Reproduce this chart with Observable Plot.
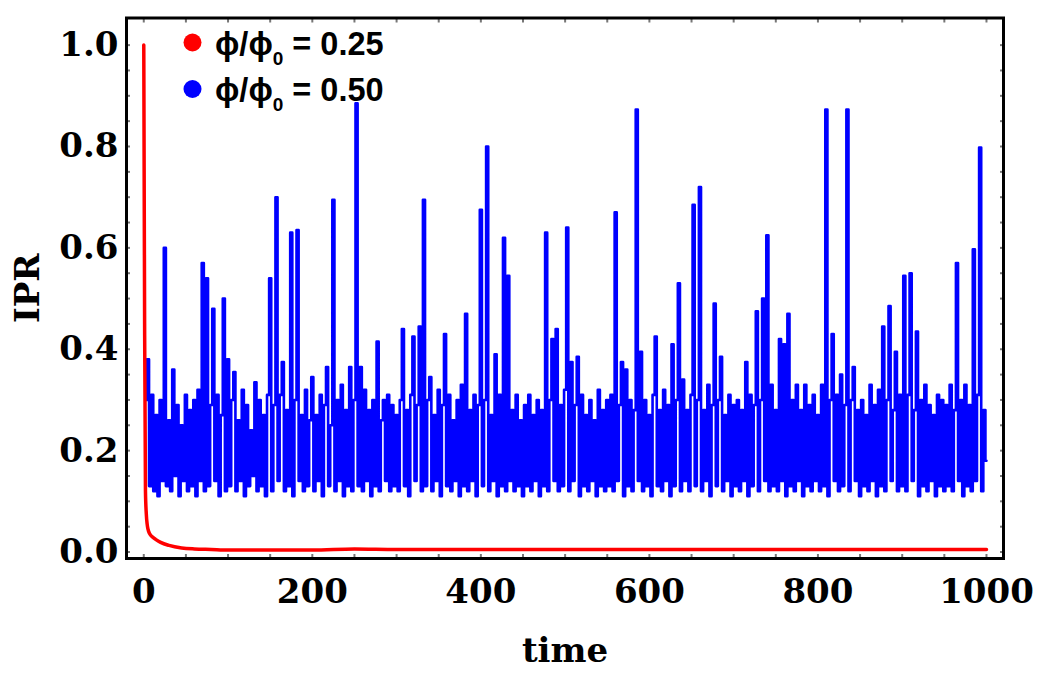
<!DOCTYPE html>
<html>
<head>
<meta charset="utf-8">
<script src="https://cdn.jsdelivr.net/npm/d3@7"></script>
<script src="https://cdn.jsdelivr.net/npm/@observablehq/plot@0.6"></script>
<style>
  html, body { margin: 0; padding: 0; background: #fff; }
  #chart { width: 1047px; height: 699px; }
</style>
</head>
<body>
<div id="chart"></div>
<script>
// ---- Data ----
// phi/phi0 = 0.25 (red)
const redTime = [0, 1, 2, 3, 4, 5, 7, 10, 14, 20, 30, 45, 60, 80, 100, 150, 200, 250, 300, 400, 500, 600, 700, 800, 900, 1000];
const redIPR  = [1.0, 0.45, 0.12, 0.075, 0.055, 0.045, 0.036, 0.03, 0.025, 0.019, 0.013, 0.008, 0.006, 0.005, 0.004, 0.004, 0.004, 0.006, 0.005, 0.005, 0.005, 0.005, 0.005, 0.005, 0.005, 0.005];

// phi/phi0 = 0.50 (blue), sampled every 2.5 time units starting at t = 2.5
const blueStart = 2.5;
const blueStep = 2.5;
const blueIPR = [
  0.30, 0.38, 0.13, 0.31, 0.12, 0.27, 0.11, 0.30, 0.14, 0.60, 0.13, 0.26, 0.12, 0.36, 0.15, 0.29, 0.11, 0.25, 0.14, 0.31,
  0.12, 0.28, 0.13, 0.30, 0.11, 0.32, 0.14, 0.57, 0.12, 0.54, 0.13, 0.29, 0.48, 0.14, 0.31, 0.11, 0.27, 0.50, 0.12, 0.38,
  0.13, 0.30, 0.355, 0.12, 0.26, 0.14, 0.32, 0.11, 0.29, 0.13, 0.24, 0.15, 0.335, 0.12, 0.30, 0.13, 0.27, 0.11, 0.31, 0.54,
  0.12, 0.29, 0.70, 0.14, 0.31, 0.375, 0.12, 0.28, 0.13, 0.63, 0.11, 0.30, 0.635, 0.14, 0.27, 0.12, 0.32, 0.13, 0.26, 0.345,
  0.12, 0.27, 0.14, 0.31, 0.11, 0.29, 0.365, 0.13, 0.25, 0.695, 0.12, 0.30, 0.14, 0.33, 0.11, 0.28, 0.13, 0.365, 0.12, 0.30,
  0.885, 0.13, 0.365, 0.12, 0.32, 0.14, 0.28, 0.11, 0.30, 0.13, 0.415, 0.12, 0.26, 0.30, 0.14, 0.31, 0.12, 0.29, 0.13, 0.27,
  0.12, 0.30, 0.44, 0.13, 0.28, 0.11, 0.31, 0.425, 0.14, 0.29, 0.445, 0.12, 0.695, 0.13, 0.30, 0.345, 0.12, 0.27, 0.14, 0.32,
  0.11, 0.29, 0.43, 0.13, 0.31, 0.12, 0.26, 0.14, 0.30, 0.11, 0.33, 0.13, 0.47, 0.12, 0.28, 0.14, 0.31, 0.11, 0.29, 0.675,
  0.13, 0.30, 0.80, 0.12, 0.27, 0.14, 0.39, 0.11, 0.31, 0.13, 0.62, 0.12, 0.545, 0.14, 0.28, 0.12, 0.31, 0.13, 0.26, 0.11,
  0.29, 0.13, 0.31, 0.12, 0.27, 0.14, 0.30, 0.11, 0.28, 0.13, 0.63, 0.12, 0.30, 0.42, 0.14, 0.44, 0.12, 0.29, 0.13, 0.32,
  0.64, 0.12, 0.375, 0.14, 0.29, 0.385, 0.11, 0.31, 0.13, 0.27, 0.12, 0.30, 0.14, 0.26, 0.11, 0.32, 0.13, 0.28, 0.12, 0.30,
  0.13, 0.31, 0.12, 0.67, 0.14, 0.29, 0.375, 0.11, 0.36, 0.13, 0.30, 0.12, 0.28, 0.873, 0.14, 0.395, 0.12, 0.30, 0.13, 0.27,
  0.11, 0.31, 0.425, 0.13, 0.28, 0.12, 0.32, 0.14, 0.29, 0.11, 0.41, 0.13, 0.30, 0.53, 0.12, 0.34, 0.14, 0.28, 0.12, 0.31,
  0.685, 0.13, 0.30, 0.72, 0.12, 0.28, 0.14, 0.33, 0.11, 0.29, 0.49, 0.13, 0.30, 0.385, 0.12, 0.27, 0.14, 0.31, 0.11, 0.29,
  0.13, 0.30, 0.12, 0.28, 0.14, 0.375, 0.11, 0.31, 0.13, 0.29, 0.475, 0.12, 0.30, 0.50, 0.14, 0.625, 0.12, 0.33, 0.13, 0.28,
  0.12, 0.42, 0.14, 0.41, 0.11, 0.47, 0.13, 0.30, 0.12, 0.33, 0.14, 0.28, 0.11, 0.33, 0.13, 0.29, 0.12, 0.31, 0.14, 0.27,
  0.12, 0.33, 0.13, 0.873, 0.11, 0.30, 0.43, 0.14, 0.31, 0.12, 0.35, 0.13, 0.29, 0.873, 0.12, 0.30, 0.365, 0.14, 0.28, 0.11,
  0.30, 0.13, 0.27, 0.12, 0.33, 0.14, 0.29, 0.11, 0.32, 0.13, 0.445, 0.12, 0.30, 0.485, 0.14, 0.28, 0.395, 0.12, 0.31, 0.13,
  0.545, 0.12, 0.31, 0.55, 0.14, 0.28, 0.435, 0.11, 0.30, 0.13, 0.33, 0.12, 0.29, 0.14, 0.27, 0.11, 0.31, 0.13, 0.30, 0.12,
  0.29, 0.13, 0.33, 0.12, 0.28, 0.57, 0.14, 0.30, 0.11, 0.33, 0.13, 0.29, 0.12, 0.597, 0.14, 0.31, 0.798, 0.12, 0.28, 0.18
];

// Ticks
const xTicks = [0, 200, 400, 600, 800, 1000];
const xMinorTicks = [0, 50, 100, 150, 200, 250, 300, 350, 400, 450, 500, 550, 600, 650, 700, 750, 800, 850, 900, 950, 1000];
const yTicks = [0.0, 0.2, 0.4, 0.6, 0.8, 1.0];
const yMinorTicks = [0, 0.05, 0.1, 0.15, 0.2, 0.25, 0.3, 0.35, 0.4, 0.45, 0.5, 0.55, 0.6, 0.65, 0.7, 0.75, 0.8, 0.85, 0.9, 0.95, 1.0];

// Legend
const legendLabels = ["0.25", "0.50"];
const legendColors = ["#ff0000", "#0000ff"];

// ---- Build tables ----
const redData = redTime.map((t, i) => ({time: t, ipr: redIPR[i]}));
const blueData = blueIPR.map((v, i) => ({time: blueStart + i * blueStep, ipr: v}));

const tickStyle = {stroke: "#777", strokeWidth: 2, tickSize: -4, tickFormat: () => "", label: null};

const chart = Plot.plot({
  width: 1047,
  height: 699,
  marginLeft: 126,
  marginRight: 44,
  marginTop: 17.5,
  marginBottom: 141,
  style: {background: "#fff", fontFamily: "'DejaVu Serif', serif", fontWeight: "bold", color: "#000"},
  x: {domain: [-20.5, 1020.2]},
  y: {domain: [-0.0128, 1.0535]},
  marks: [
    Plot.line(blueData, {x: "time", y: "ipr", stroke: "#0000ff", strokeWidth: 2.6, curve: "step"}),
    Plot.line(redData, {x: "time", y: "ipr", stroke: "#ff0000", strokeWidth: 3.5, curve: "monotone-x"}),
    Plot.axisX({anchor: "bottom", ticks: xMinorTicks, ...tickStyle}),
    Plot.axisX({anchor: "top", ticks: xMinorTicks, ...tickStyle}),
    Plot.axisY({anchor: "left", ticks: yMinorTicks, ...tickStyle}),
    Plot.axisY({anchor: "right", ticks: yMinorTicks, ...tickStyle}),
    Plot.axisX({
      anchor: "bottom", ticks: xTicks, tickSize: 0, tickPadding: 20, fontSize: 34, tickFormat: d => String(d),
      label: "time", labelAnchor: "center", labelArrow: "none", labelOffset: 103
    }),
    Plot.axisY({
      anchor: "left", ticks: yTicks, tickSize: 0, tickPadding: 8, fontSize: 34, tickFormat: ".1f",
      label: "IPR", labelAnchor: "center", labelArrow: "none", labelOffset: 112
    }),
    Plot.frame({stroke: "#000", strokeWidth: 3})
  ]
});

// Legend inside the frame
const svg = d3.select(chart);
const lg = svg.append("g").attr("class", "legend").attr("text-anchor", "start");
legendLabels.forEach((lab, i) => {
  const cy = 42.5 + i * 46.5;
  lg.append("circle").attr("cx", 192.5).attr("cy", cy).attr("r", 9).attr("fill", legendColors[i]);
  const t = lg.append("text")
    .attr("x", 215).attr("y", cy + 12)
    .attr("text-anchor", "start")
    .attr("font-family", "'Liberation Sans', Arial, sans-serif")
    .attr("font-weight", "bold").attr("font-size", 32.5).attr("fill", "#000");
  t.append("tspan").text("ϕ/ϕ");
  t.append("tspan").attr("font-size", 19).attr("dy", 10).text("0");
  t.append("tspan").attr("dy", -10).text(" = " + lab);
});

document.getElementById("chart").appendChild(chart);
</script>
</body>
</html>
